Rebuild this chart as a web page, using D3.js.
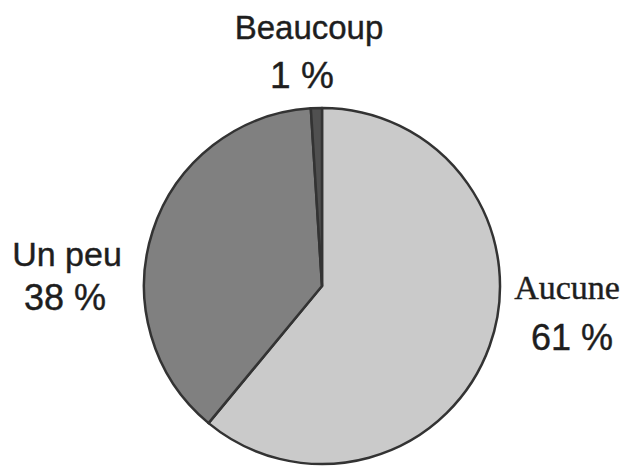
<!DOCTYPE html>
<html>
<head>
<meta charset="utf-8">
<script src="https://cdn.jsdelivr.net/npm/d3@7"></script>
<style>
  body { margin: 0; background: #fff; }
  svg { display: block; }
</style>
</head>
<body>
<div id="chart"></div>
<script>
// Data
var categories = ["Aucune", "Un peu", "Beaucoup"];
var values = [61, 38, 1];
var valueLabels = ["61 %", "38 %", "1 %"];

var W = 628, H = 476;
var cx = 322, cy = 286, radius = 178;

var colors = d3.scaleOrdinal()
  .domain(categories)
  .range(["#cacaca", "#808080", "#505050"]);

// where each label sits (name line, value line)
var labelPos = {
  "Aucune":   { x: 567, y: 299, vx: 572, vy: 350, nameFont: "'Liberation Serif', 'Times New Roman', serif", nameSize: 34, valSize: 36 },
  "Un peu":   { x: 67,  y: 266, vx: 65,  vy: 310, nameFont: "'Liberation Sans', Arial, sans-serif", nameSize: 34, valSize: 36 },
  "Beaucoup": { x: 309, y: 39,  vx: 302, vy: 88,  nameFont: "'Liberation Sans', Arial, sans-serif", nameSize: 33, valSize: 37 }
};

var svg = d3.select("#chart")
  .append("svg")
  .attr("width", W)
  .attr("height", H);

var pie = d3.pie()
  .sort(null)
  .value(function(d){ return d.value; });

var arc = d3.arc()
  .innerRadius(0)
  .outerRadius(radius);

var table = categories.map(function(c, i){
  return { name: c, value: values[i], label: valueLabels[i] };
});

var g = svg.append("g")
  .attr("transform", "translate(" + cx + "," + cy + ")");

g.selectAll("path.slice")
  .data(pie(table))
  .enter()
  .append("path")
  .attr("class", "slice")
  .attr("d", arc)
  .attr("fill", function(d){ return colors(d.data.name); })
  .attr("stroke", "#333")
  .attr("stroke-width", 2.5)
  .attr("stroke-linejoin", "round");

var labels = svg.selectAll("g.label")
  .data(table)
  .enter()
  .append("g")
  .attr("class", "label");

labels.append("text")
  .attr("x", function(d){ return labelPos[d.name].x; })
  .attr("y", function(d){ return labelPos[d.name].y; })
  .attr("text-anchor", "middle")
  .style("font-family", function(d){ return labelPos[d.name].nameFont; })
  .style("font-size", function(d){ return labelPos[d.name].nameSize + "px"; })
  .style("fill", "#1e1e1e")
  .style("stroke", "#1e1e1e")
  .style("stroke-width", 0.4)
  .text(function(d){ return d.name; });

labels.append("text")
  .attr("x", function(d){ return labelPos[d.name].vx; })
  .attr("y", function(d){ return labelPos[d.name].vy; })
  .attr("text-anchor", "middle")
  .style("font-family", "'Liberation Sans', Arial, sans-serif")
  .style("font-size", function(d){ return labelPos[d.name].valSize + "px"; })
  .style("fill", "#1e1e1e")
  .style("stroke", "#1e1e1e")
  .style("stroke-width", 0.4)
  .text(function(d){ return d.label; });
</script>
</body>
</html>
